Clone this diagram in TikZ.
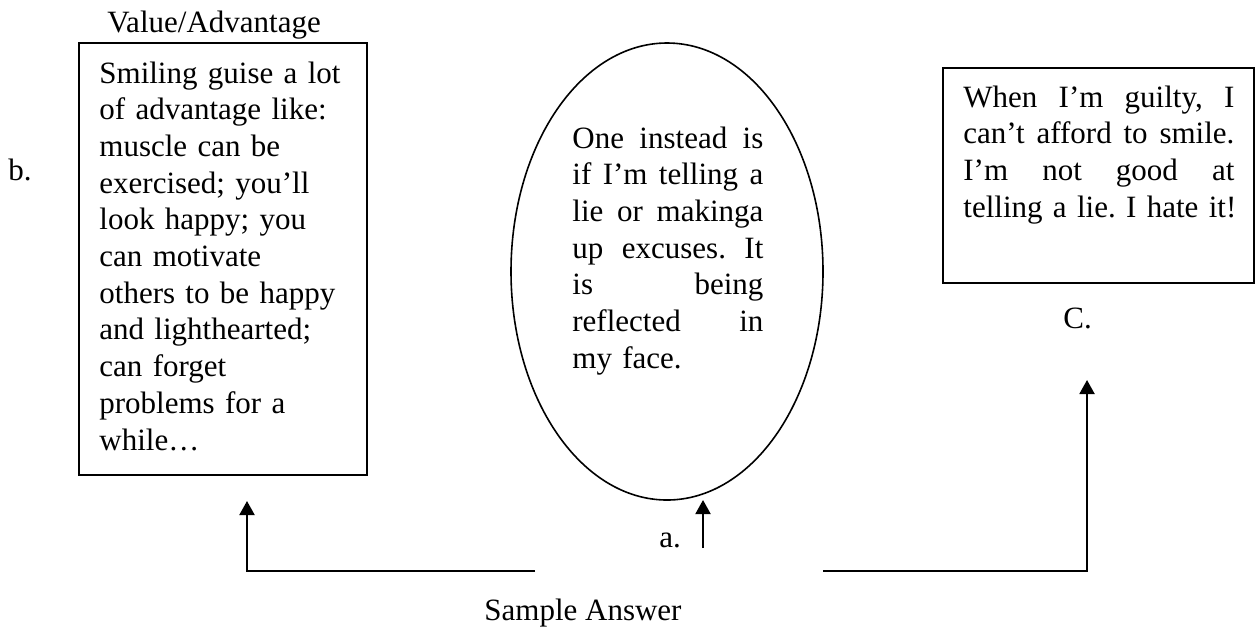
\documentclass[tikz,border=0pt]{standalone}
\usepackage{fontspec}
\setmainfont{Liberation Serif}
\usetikzlibrary{shapes.geometric,arrows.meta}
% a line spread out to the full width of its paragraph
\newlength\fillw
\newcommand\fullline[1]{\leavevmode\hbox to \fillw{\spaceskip=0.25em plus 1fil\relax #1}}
% a line kept at its natural width
\newcommand\keepline[1]{\leavevmode\hbox{#1}}
\begin{document}
\frenchspacing
\begin{tikzpicture}[x=0.5pt,y=-0.5pt,
  txt/.style={inner sep=0pt, anchor=base west, font=\fontsize{15.5}{18.35}\selectfont},
  para/.style={txt, align=left, text width=#1, execute at begin node={\setlength\fillw{#1}}},
  frame/.style={draw, line width=1pt},
  link/.style={line width=1pt, -{Triangle[length=7pt,width=7.5pt]}},
]
\useasboundingbox (0,0) rectangle (1256,628);

% left box: values and advantages
\node[txt, anchor=base] (title) at (214,32) {Value/Advantage};
\node[txt] (b) at (8,180) {b.};
\draw[frame] (79,43) rectangle (367,475);
\node[para=130pt] (lefttext) at (99,83) {Smiling guise a lot\\
of advantage like:\\
muscle can be\\
exercised; you’ll\\
look happy; you\\
can motivate\\
others to be happy\\
and lighthearted;\\
can forget\\
problems for a\\
while…};

% centre ellipse
\node[draw, ellipse, line width=0.8pt, minimum width=156pt, minimum height=228.5pt, inner sep=0pt] (oval) at (667,271.5) {};
\node[para=95.5pt] (ovaltext) at (572,148) {\fullline{One instead is}\\
\fullline{if I’m telling a}\\
\fullline{lie or makinga}\\
\fullline{up excuses. It}\\
\fullline{is being}\\
\fullline{reflected in}\\
my face.};

% right box
\draw[frame] (943,68) rectangle (1254,283);
\node[para=135.5pt] (righttext) at (963,107) {\fullline{When I’m guilty, I}\\
\fullline{can’t afford to smile.}\\
\fullline{I’m not good at}\\
\keepline{telling a lie. I hate it!}};
\node[txt] (c) at (1063,328) {C.};

% bottom label and connectors
\node[txt] (answer) at (484,620) {Sample Answer};
\node[txt] (a) at (659,547) {a.};

\coordinate (lstart) at (535,571);
\coordinate (lcorner) at (247,571);
\coordinate (ltip) at (247,501);
\coordinate (mstart) at (703,548);
\coordinate (mtip) at (703,500);
\coordinate (rstart) at (823,571);
\coordinate (rcorner) at (1087,571);
\coordinate (rtip) at (1087,380);

\draw[link] (lstart) -- (lcorner) -- (ltip);
\draw[link] (mstart) -- (mtip);
\draw[link] (rstart) -- (rcorner) -- (rtip);
\end{tikzpicture}
\end{document}
